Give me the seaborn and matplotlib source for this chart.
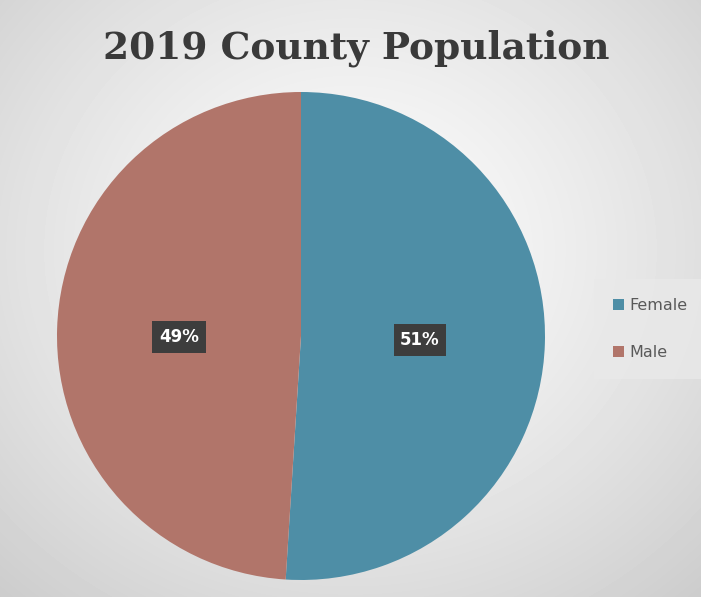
import numpy as np
import matplotlib
matplotlib.use("Agg")
import matplotlib.pyplot as plt
import seaborn as sns
from matplotlib.patches import Patch

# Data
categories = ["Female", "Male"]
shares = [51, 49]
title = "2019 County Population"

sns.set_theme(style="white")
plt.rcParams['font.family'] = ['DejaVu Sans']

colors = ["#4e8ea6", "#b1756a"]

W, H = 701, 597
fig = plt.figure(figsize=(W / 100, H / 100), dpi=100)

# radial gradient background
bg = fig.add_axes([0, 0, 1, 1])
yy, xx = np.mgrid[0:H, 0:W]
cx, cy = 350, 250
r = np.sqrt(((xx - cx) / 520) ** 2 + ((yy - cy) / 470) ** 2)
r = np.clip(r, 0, 1)
light, dark = 0.99, 0.80
vals = light - (light - dark) * r ** 1.3
bg.imshow(vals, cmap="gray", vmin=0, vmax=1, aspect="auto", extent=[0, W, H, 0])
bg.set_xlim(0, W)
bg.set_ylim(H, 0)
bg.axis("off")

# pie axes
cxp, cyp, rad = 301, 336, 244
ax = fig.add_axes([(cxp - rad) / W, (H - cyp - rad) / H, 2 * rad / W, 2 * rad / H])
ax.set_facecolor("none")
wedges, _ = ax.pie(shares, colors=colors, startangle=90, counterclock=False,
                   radius=1.0, wedgeprops=dict(linewidth=0))
ax.set_xlim(-1, 1)
ax.set_ylim(-1, 1)
ax.set_aspect("equal")
ax.axis("off")

# labels
label_pos = [(420, 340), (179, 337)]
for (px, py), s in zip(label_pos, shares):
    fig.text(px / W, 1 - py / H, f"{s}%", ha="center", va="center",
             color="white", fontsize=12, fontweight="bold",
             bbox=dict(boxstyle="square,pad=0.4", facecolor="#3d3d3d",
                       edgecolor="none"))

# title
fig.text(356 / W, 1 - 48 / H, title, ha="center", va="center",
         fontsize=27, fontweight="bold", family=["DejaVu Serif"], color="#3a3a3a")

# legend
handles = [Patch(facecolor=c, edgecolor="none") for c in colors]
leg = fig.legend(handles, categories, loc="center", bbox_to_anchor=(650 / W, 1 - 329 / H),
                 frameon=True, fontsize=11.5, handlelength=0.7, handleheight=0.7,
                 handletextpad=0.3, labelspacing=2.0, borderpad=0.9,
                 labelcolor="#595959")
leg.get_frame().set_facecolor("#e9e9e9")
leg.get_frame().set_edgecolor("none")
leg.get_frame().set_alpha(0.8)
leg.get_frame().set_boxstyle("square")

fig.savefig("out.png", dpi=100)
